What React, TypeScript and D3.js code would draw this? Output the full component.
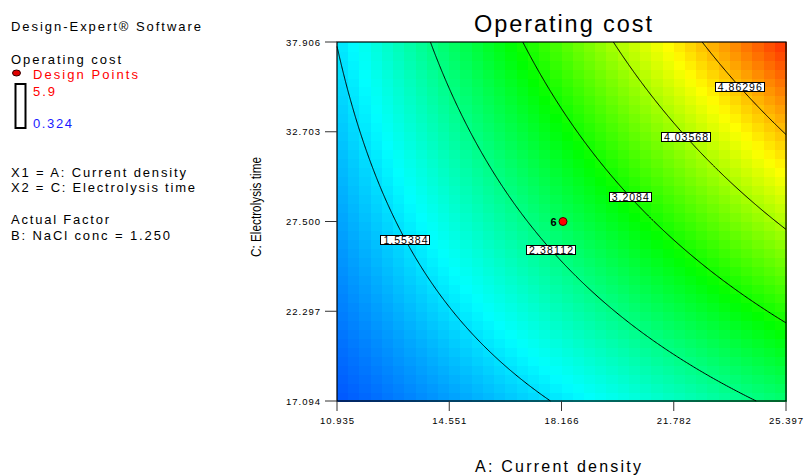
import React from "react";
import * as d3 from "d3";

// ---- data ----
const xTicks = [10.935, 14.551, 18.166, 21.782, 25.397];
const yTicks = [17.094, 22.297, 27.5, 32.703, 37.906];
const xTickLabels = ["10.935", "14.551", "18.166", "21.782", "25.397"];
const yTickLabels = ["17.094", "22.297", "27.500", "32.703", "37.906"];
const contourLevels = [1.55384, 2.38112, 3.2084, 4.03568, 4.86296];
const contourLabels = ["1.55384", "2.38112", "3.2084", "4.03568", "4.86296"];
const labelFractions = [0.485, 0.485, 0.485, 0.467, 0.47];
// quadratic model in coded units: intercept, A, C, AC, A^2, C^2
const modelCoefs = [2.6, 1.455, 0.982, 0.593, 0.05, -0.022];
const responseRange = [0.324, 5.9];
const designPointsA = [18.166];
const designPointsC = [27.5];
const designPointsCount = [6];
const gridN = 40;

const FONT = "'Liberation Sans', Arial, sans-serif";

const A_MIN = xTicks[0], A_MAX = xTicks[xTicks.length - 1];
const C_MIN = yTicks[0], C_MAX = yTicks[yTicks.length - 1];
const aCenter = (A_MIN + A_MAX) / 2, aHalf = (A_MAX - A_MIN) / 2;
const cCenter = (C_MIN + C_MAX) / 2, cHalf = (C_MAX - C_MIN) / 2;

function model(a: number, c: number) {
  const [b0, b1, b2, b12, b11, b22] = modelCoefs;
  return b0 + b1 * a + b2 * c + b12 * a * c + b11 * a * a + b22 * c * c;
}

function solveA(level: number, c: number): number | null {
  let lo = -1, hi = 1;
  const flo = model(lo, c) - level, fhi = model(hi, c) - level;
  if (flo > 0 || fhi < 0) return null;
  for (let k = 0; k < 50; k++) {
    const m = (lo + hi) / 2;
    if (model(m, c) - level < 0) lo = m; else hi = m;
  }
  return (lo + hi) / 2;
}
function solveCRight(level: number): number | null {
  let lo = -1, hi = 1;
  if (model(1, lo) > level || model(1, hi) < level) return null;
  for (let k = 0; k < 50; k++) {
    const m = (lo + hi) / 2;
    if (model(1, m) < level) lo = m; else hi = m;
  }
  return (lo + hi) / 2;
}

export default function App() {
  const W = 808, H = 475;
  const x = d3.scaleLinear().domain([A_MIN, A_MAX]).range([337, 786]);
  const y = d3.scaleLinear().domain([C_MIN, C_MAX]).range([401, 42]);
  const [lo, hi] = responseRange;
  const color = d3
    .scaleLinear<string>()
    .domain(d3.range(5).map((k) => lo + (k * (hi - lo)) / 4))
    .range(["#0000ff", "#00ffff", "#00ff00", "#ffff00", "#ff0000"])
    .interpolate(d3.interpolateRgb)
    .clamp(true);

  const cells: JSX.Element[] = [];
  for (let i = 0; i < gridN; i++) {
    for (let j = 0; j < gridN; j++) {
      const A0 = A_MIN + ((A_MAX - A_MIN) * i) / gridN;
      const A1 = A_MIN + ((A_MAX - A_MIN) * (i + 1)) / gridN;
      const C0 = C_MIN + ((C_MAX - C_MIN) * j) / gridN;
      const C1 = C_MIN + ((C_MAX - C_MIN) * (j + 1)) / gridN;
      const a = ((A0 + A1) / 2 - aCenter) / aHalf;
      const c = ((C0 + C1) / 2 - cCenter) / cHalf;
      cells.push(
        <rect
          key={`${i}-${j}`}
          x={x(A0)}
          y={y(C1)}
          width={x(A1) - x(A0) + 0.6}
          height={y(C0) - y(C1) + 0.6}
          fill={color(model(a, c))}
        />
      );
    }
  }

  const line = d3.line<[number, number]>().x((d) => d[0]).y((d) => d[1]);
  const contours = contourLevels.map((level, li) => {
    const pts: [number, number][] = [];
    const N = 400;
    for (let k = 0; k <= N; k++) {
      const c = -1 + (2 * k) / N;
      const a = solveA(level, c);
      if (a !== null) pts.push([a, c]);
    }
    const cr = solveCRight(level);
    if (cr !== null) pts.push([1, cr]);
    pts.sort((p, q) => p[1] - q[1]);
    const px: [number, number][] = pts.map(([a, c]) => [
      x(aCenter + a * aHalf),
      y(cCenter + c * cHalf),
    ]);
    const rev = px.slice().reverse();
    let total = 0;
    const cum = [0];
    for (let k = 1; k < rev.length; k++) {
      total += Math.hypot(rev[k][0] - rev[k - 1][0], rev[k][1] - rev[k - 1][1]);
      cum.push(total);
    }
    const target = total * labelFractions[li];
    let lp = rev[0];
    for (let k = 1; k < rev.length; k++) {
      if (cum[k] >= target) {
        const t = (target - cum[k - 1]) / (cum[k] - cum[k - 1] || 1);
        lp = [
          rev[k - 1][0] + t * (rev[k][0] - rev[k - 1][0]),
          rev[k - 1][1] + t * (rev[k][1] - rev[k - 1][1]),
        ];
        break;
      }
    }
    return { d: line(px) || "", lp, label: contourLabels[li] };
  });

  const legendText = (
    t: string, xx: number, yy: number, tl: number, fill = "#000"
  ) => (
    <text x={xx} y={yy} fontSize={13} fill={fill} textLength={tl} lengthAdjust="spacing">
      {t}
    </text>
  );

  return (
    <svg
      width={W}
      height={H}
      style={{ position: "absolute", left: 0, top: 0, background: "#fff" }}
      fontFamily={FONT}
    >
      <rect x={0} y={0} width={W} height={H} fill="#fff" />
      {/* legend block */}
      {legendText("Design-Expert® Software", 11, 31, 190)}
      {legendText("Operating cost", 11, 64, 110)}
      <ellipse cx={16.5} cy={73} rx={4} ry={3} fill="#e00000" stroke="#300" strokeWidth={1} />
      {legendText("Design Points", 33, 79, 105, "#ff0000")}
      <rect x={15.5} y={84} width={10} height={44} fill="#fff" stroke="#000" strokeWidth={2} />
      {legendText("5.9", 33, 95.5, 22, "#ff0000")}
      {legendText("0.324", 33, 128, 39, "#1a1aff")}
      {legendText("X1 = A: Current density", 11, 176.5, 175)}
      {legendText("X2 = C: Electrolysis time", 11, 191.5, 184)}
      {legendText("Actual Factor", 11, 224, 98)}
      {legendText("B: NaCl conc = 1.250", 11, 239.5, 159)}

      {/* title */}
      <text x={563} y={31.5} fontSize={23.5} textAnchor="middle" textLength={178} lengthAdjust="spacing">
        Operating cost
      </text>

      {/* heatmap */}
      <g shapeRendering="crispEdges">{cells}</g>

      {/* contours */}
      {contours.map((ct, i) => (
        <path key={i} d={ct.d} fill="none" stroke="#000" strokeWidth={1} />
      ))}
      {contours.map((ct, i) => {
        const w = ct.label.length * 7;
        return (
          <g key={`l${i}`}>
            <rect
              x={ct.lp[0] - w / 2}
              y={ct.lp[1] - 4.5}
              width={w}
              height={9}
              fill="#fff"
              stroke="#000"
              strokeWidth={1}
              shapeRendering="crispEdges"
            />
            <text
              x={ct.lp[0]}
              y={ct.lp[1] + 4}
              fontSize={10.5}
              textAnchor="middle"
              textLength={w - 5}
              lengthAdjust="spacing"
            >
              {ct.label}
            </text>
          </g>
        );
      })}

      {/* frame */}
      <rect x={337} y={42} width={449} height={359} fill="none" stroke="#000" strokeWidth={1.2} />

      {/* design points */}
      {designPointsA.map((A, i) => (
        <g key={`dp${i}`}>
          <circle cx={x(A) + 1.5} cy={y(designPointsC[i])} r={4} fill="#ff0000" stroke="#400" strokeWidth={1} />
          <text
            x={x(A) - 8}
            y={y(designPointsC[i]) + 4}
            fontSize={11}
            fontWeight="bold"
            textAnchor="middle"
          >
            {designPointsCount[i]}
          </text>
        </g>
      ))}

      {/* x axis */}
      {xTicks.map((t, i) => (
        <g key={`xt${i}`}>
          <line x1={x(t)} x2={x(t)} y1={401} y2={411} stroke="#333" strokeWidth={1} />
          <text x={x(t)} y={424} fontSize={9.5} textAnchor="middle" textLength={34} lengthAdjust="spacing">
            {xTickLabels[i]}
          </text>
        </g>
      ))}
      {/* y axis */}
      {yTicks.map((t, i) => (
        <g key={`yt${i}`}>
          <line x1={325} x2={337} y1={y(t)} y2={y(t)} stroke="#333" strokeWidth={1} />
          <text x={320} y={y(t) + 3.5} fontSize={9.5} textAnchor="end" textLength={34} lengthAdjust="spacing">
            {yTickLabels[i]}
          </text>
        </g>
      ))}

      <text x={558} y={472} fontSize={16} textAnchor="middle" textLength={166} lengthAdjust="spacing">
        A: Current density
      </text>
      <text
        transform={`translate(261, 207) rotate(-90)`}
        fontSize={14}
        textAnchor="middle"
        textLength={100}
        lengthAdjust="spacingAndGlyphs"
      >
        C: Electrolysis time
      </text>
    </svg>
  );
}
